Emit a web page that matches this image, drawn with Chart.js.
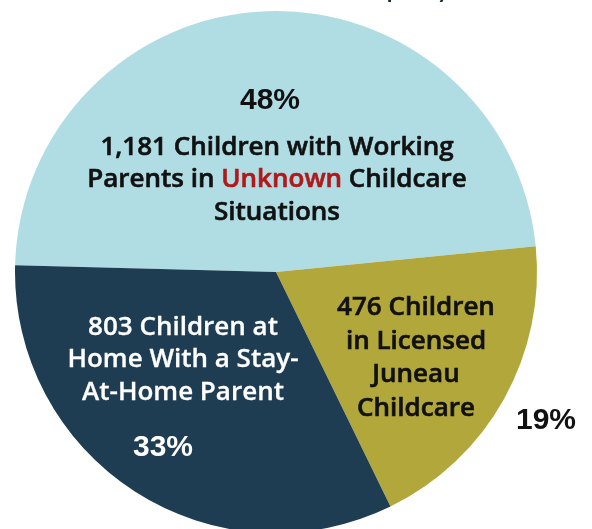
<!DOCTYPE html>
<html>
<head>
<meta charset="utf-8">
<script src="https://cdn.jsdelivr.net/npm/chart.js@4.4.1/dist/chart.umd.min.js"></script>
<style>
  html, body { margin: 0; padding: 0; background: #ffffff; }
  #wrap { width: 592px; height: 529px; overflow: hidden; position: relative; }
  canvas { display: block; }
</style>
</head>
<body>
<div id="wrap"><canvas id="c" width="592" height="560"></canvas></div>
<script>
// ---- data ----
const categories = [
  "Children with Working Parents in Unknown Childcare Situations",
  "Children in Licensed Juneau Childcare",
  "Children at Home With a Stay-At-Home Parent"
];
const childCounts = [1181, 476, 803];
const percentLabels = ["48%", "19%", "33%"];
const sliceColors = ["#b0dde4", "#b2a73a", "#1e3d52"];
const titleText = "Juneau Children and Childcare Capacity";

// label text lines (each line: array of [text, colorKey])
const labelLines = [
  [[["1,181 Children with Working", "dark"]], [["Parents in ", "dark"], ["Unknown", "red"], [" Childcare", "dark"]], [["Situations", "dark"]]],
  [[["476 Children", "dark"]], [["in Licensed", "dark"]], [["Juneau", "dark"]], [["Childcare", "dark"]]],
  [[["803 Children at", "light"]], [["Home With a Stay-", "light"]], [["At-Home Parent", "light"]]]
];

const textColors = { dark: "#111111", red: "#b0191c", light: "#ffffff" };

const labelPlugin = {
  id: "labels",
  afterDraw(chart) {
    const ctx = chart.ctx;
    const arc = chart.getDatasetMeta(0).data[0];
    const cx = arc.x, cy = arc.y, r = arc.outerRadius;
    const s = r / 261;
    ctx.save();
    ctx.textAlign = "left";

    // partially cut-off title at the very top
    ctx.font = "bold 23px Lato, sans-serif";
    ctx.fillStyle = "#1e2d3b";
    ctx.textBaseline = "alphabetic";
    ctx.fillText(titleText, 45, -2);
    ctx.textBaseline = "middle";

    const textFont = "600 " + Math.round(25.5 * s) + "px 'Open Sans', sans-serif";
    const pctFont = "bold " + Math.round(30 * s) + "px 'Liberation Sans', Arial, sans-serif";

    function drawLine(parts, x, y, emb) {
      ctx.font = textFont;
      let total = 0;
      parts.forEach(p => { total += ctx.measureText(p[0]).width; });
      let xx = x - total / 2;
      parts.forEach(p => {
        ctx.fillStyle = textColors[p[1]];
        ctx.strokeStyle = textColors[p[1]];
        ctx.lineWidth = emb;
        ctx.fillText(p[0], xx, y);
        if (emb > 0) ctx.strokeText(p[0], xx, y);
        xx += ctx.measureText(p[0]).width;
      });
    }
    function drawBlock(lines, dx, dy0, lh, emb) {
      lines.forEach((ln, i) => drawLine(ln, cx + dx * s, cy + (dy0 + i * lh) * s, emb));
    }
    function drawPct(txt, dx, dy, color) {
      ctx.font = pctFont;
      ctx.fillStyle = color;
      ctx.textAlign = "center";
      ctx.fillText(txt, cx + dx * s, cy + dy * s);
      ctx.textAlign = "left";
    }

    drawPct(percentLabels[0], -6, -171, textColors.dark);
    drawBlock(labelLines[0], 1, -124.5, 32.5, 0.6);
    drawBlock(labelLines[1], 140, 35.5, 33.7, 0.6);
    drawBlock(labelLines[2], -93, 55.5, 32.5, 0.3);
    drawPct(percentLabels[2], -113, 176, textColors.light);
    drawPct(percentLabels[1], 270, 149, textColors.dark);
    ctx.restore();
  }
};

new Chart(document.getElementById("c"), {
  type: "pie",
  data: {
    labels: categories,
    datasets: [{
      data: childCounts,
      backgroundColor: sliceColors,
      borderWidth: 0
    }]
  },
  options: {
    responsive: false,
    animation: false,
    rotation: 271.5,
    layout: { padding: { left: 15, right: 55, top: 11, bottom: 27 } },
    plugins: { legend: { display: false }, tooltip: { enabled: false }, title: { display: false } }
  },
  plugins: [labelPlugin]
});
</script>
</body>
</html>
